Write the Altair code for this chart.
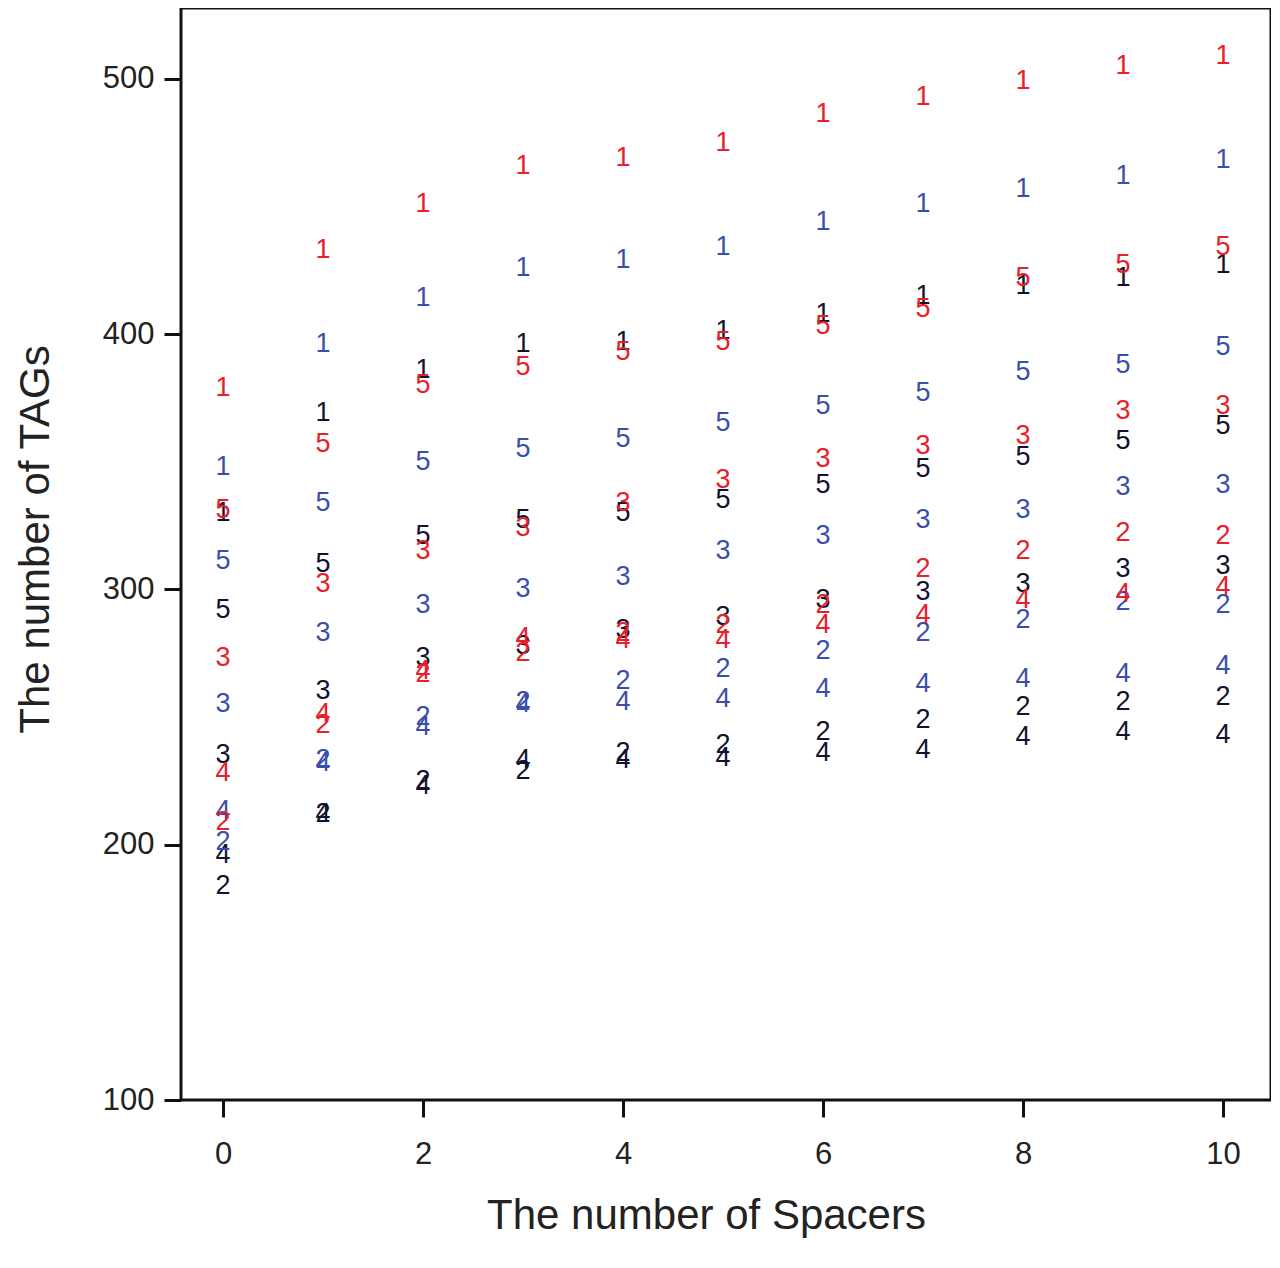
import altair as alt
import pandas as pd

spacers = list(range(11))

red1 = [379, 433, 451, 466, 469, 475, 486, 493, 499, 505, 509]
red2 = [209, 247, 267, 275, 283, 286, 294, 308, 315, 322, 321]
red3 = [273, 302, 315, 324, 334, 343, 351, 356, 360, 370, 372]
red4 = [228, 251, 268, 281, 280, 280, 286, 290, 296, 298, 301]
red5 = [331, 357, 380, 387, 393, 397, 403, 410, 422, 427, 434]

blue1 = [348, 396, 414, 426, 429, 434, 444, 451, 457, 462, 468]
blue2 = [201, 233, 250, 256, 264, 269, 276, 283, 288, 295, 294]
blue3 = [255, 283, 294, 300, 305, 315, 321, 327, 331, 340, 341]
blue4 = [213, 232, 246, 255, 256, 257, 261, 263, 265, 267, 270]
blue5 = [311, 334, 350, 355, 359, 365, 372, 377, 385, 388, 395]

black1 = [330, 369, 386, 396, 397, 401, 408, 415, 419, 422, 427]
black2 = [184, 212, 225, 229, 236, 239, 244, 249, 254, 256, 258]
black3 = [235, 260, 273, 278, 284, 289, 296, 299, 302, 308, 309]
black4 = [196, 212, 223, 233, 233, 234, 236, 237, 242, 244, 243]
black5 = [292, 310, 321, 327, 330, 335, 341, 347, 352, 358, 364]

series = {
    ("black", "1"): black1, ("black", "2"): black2, ("black", "3"): black3,
    ("black", "4"): black4, ("black", "5"): black5,
    ("blue", "1"): blue1, ("blue", "2"): blue2, ("blue", "3"): blue3,
    ("blue", "4"): blue4, ("blue", "5"): blue5,
    ("red", "1"): red1, ("red", "2"): red2, ("red", "3"): red3,
    ("red", "4"): red4, ("red", "5"): red5,
}

rows = []
for (grp, lab), vals in series.items():
    for xv, yv in zip(spacers, vals):
        rows.append({"x": xv, "y": yv, "label": lab, "group": grp})
df = pd.DataFrame(rows)

groups = ["red", "blue", "black"]
colors = ["#e8202a", "#3a4fac", "#12122e"]

chart = alt.Chart(df).mark_text(
    fontSize=27, font="Liberation Sans", baseline="middle", align="center"
).encode(
    x=alt.X("x:Q",
            scale=alt.Scale(domain=[-0.42, 10.48], nice=False, zero=False),
            axis=alt.Axis(values=[0, 2, 4, 6, 8, 10], title="The number of Spacers",
                          labelPadding=22, titlePadding=26, titleX=525)),
    y=alt.Y("y:Q",
            scale=alt.Scale(domain=[100, 527.7], nice=False, zero=False),
            axis=alt.Axis(values=[100, 200, 300, 400, 500], title="The number of TAGs",
                          labelPadding=10, titlePadding=45, titleY=531)),
    text="label:N",
    color=alt.Color("group:N", scale=alt.Scale(domain=groups, range=colors), legend=None),
).properties(
    width=1090, height=1092,
    padding={"left": 173, "top": 0, "right": 0, "bottom": 150},
    autosize=alt.AutoSizeParams(type="none"),
).configure_view(
    stroke="#111111", strokeWidth=3
).configure_axis(
    domain=False, grid=False,
    tickColor="#111111", tickWidth=3, tickSize=17,
    labelFont="Liberation Sans", labelFontSize=31, labelColor="#222222",
    titleFont="Liberation Sans", titleFontSize=42, titleFontWeight="normal",
    titleColor="#222222",
)

chart.save("out.html", embed_options={"renderer": "svg", "actions": False})
